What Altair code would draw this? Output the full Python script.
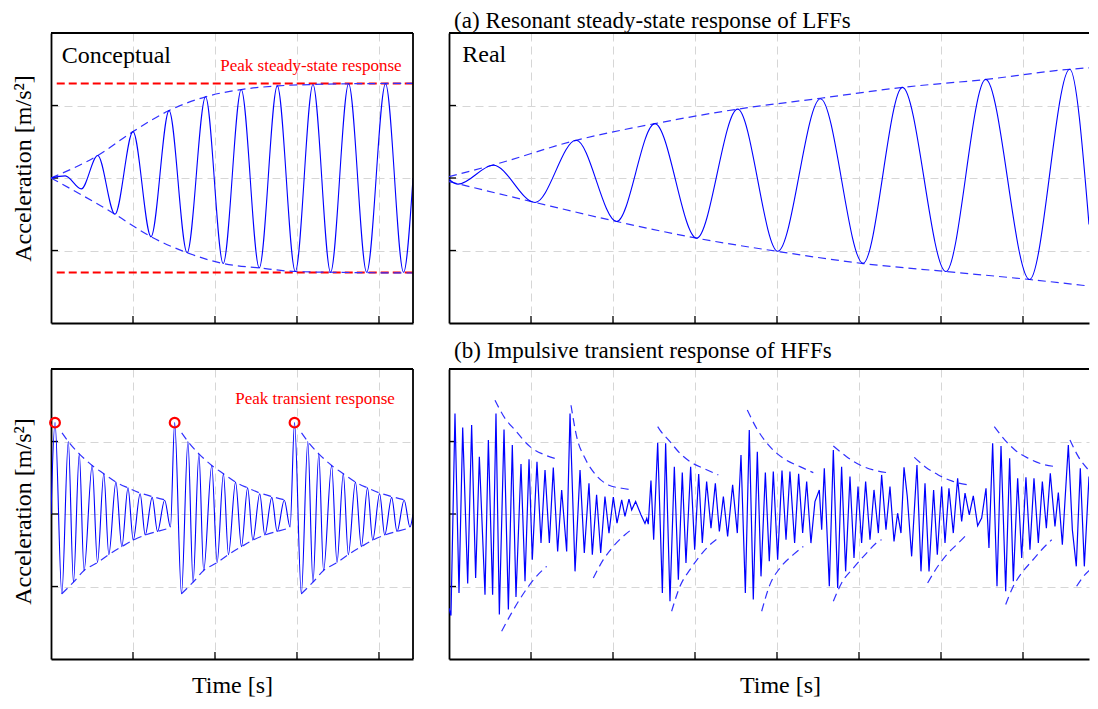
import altair as alt
import pandas as pd

FONT = "Liberation Serif"
BLUE = "#0000ff"
ENV_BLUE = "#3030ff"
RED = "#ff0000"
FRAME_W = 1.8

# ---------------- layout / axes ----------------
W_L, W_R, H = 362, 640, 290
X_MAX_L = 4.415
X_MAX_R = 7.805
Y_DOM = [-2, 2]
X_TICKS_L = [1, 2, 3, 4]
X_TICKS_R = [1, 2, 3, 4, 5, 6, 7]
Y_TICKS = [-1, 0, 1]

# ---------------- (a) conceptual LFF: extrema of waveform ----------------
A_CON_T = [0, 0.174, 0.37, 0.57, 0.78, 1.0, 1.22, 1.44, 1.66, 1.885, 2.10,
           2.32, 2.54, 2.76, 2.98, 3.195, 3.41, 3.63, 3.85, 4.08, 4.30, 4.415]
A_CON_V = [0, 0.03, -0.15, 0.31, -0.50, 0.64, -0.81, 0.93, -1.03, 1.12, -1.18,
           1.22, -1.24, 1.27, -1.29, 1.29, -1.30, 1.30, -1.30, 1.30, -1.30, 0.0]
A_CON_UP_T = [0, 0.57, 1.0, 1.44, 1.885, 2.32, 2.76, 3.2, 3.63, 4.415]
A_CON_UP_V = [0, 0.31, 0.64, 0.93, 1.12, 1.22, 1.27, 1.29, 1.30, 1.305]
A_CON_LO_T = [0, 0.78, 1.22, 1.66, 2.10, 2.54, 2.98, 3.41, 4.415]
A_CON_LO_V = [0, -0.50, -0.81, -1.03, -1.18, -1.24, -1.29, -1.30, -1.31]
PEAK_SS_T = [0.07, 4.415]
PEAK_SS_V = [1.305, -1.305]

# ---------------- (a) real LFF ----------------
A_REAL_T = [0, 0.11, 0.54, 1.05, 1.55, 2.045, 2.51, 3.02, 3.52, 4.01, 4.53,
            5.05, 5.53, 6.06, 6.545, 7.08, 7.57, 7.805]
A_REAL_V = [-0.02, -0.085, 0.176, -0.337, 0.52, -0.60, 0.75, -0.83, 0.95, -1.01,
            1.094, -1.176, 1.25, -1.29, 1.36, -1.40, 1.50, -0.64]
A_REAL_UP_T = [0, 0.54, 1.55, 2.51, 3.52, 4.53, 5.53, 6.55, 7.57, 7.805]
A_REAL_UP_V = [0.02, 0.18, 0.52, 0.75, 0.95, 1.10, 1.25, 1.36, 1.50, 1.52]
A_REAL_LO_T = [0, 1.05, 2.045, 3.02, 4.02, 5.05, 6.06, 7.08, 7.805]
A_REAL_LO_V = [-0.05, -0.337, -0.60, -0.83, -1.015, -1.18, -1.29, -1.40, -1.49]

# ---------------- (b) conceptual HFF: one impulse cycle (time after impulse) ----------------
B_CON_IMPULSE_T = [0.049, 1.508, 2.97]
B_CON_REL_T = [0, 0.083, 0.162, 0.225, 0.296, 0.354, 0.453, 0.518, 0.595, 0.656,
               0.743, 0.815, 0.89, 0.954, 1.038, 1.10, 1.185, 1.25, 1.337, 1.408]
B_CON_REL_V = [1.26, -1.10, 1.0, -0.94, 0.83, -0.78, 0.67, -0.67, 0.555, -0.56,
               0.44, -0.45, 0.36, -0.36, 0.28, -0.29, 0.23, -0.24, 0.19, -0.18]
B_CON_START = (0.0, 0.0)
B_CON_END = (4.415, 0.0)
B_CON_UP_T = [0.085, 0.162, 0.296, 0.453, 0.595, 0.743, 0.89, 1.038, 1.185, 1.36]
B_CON_UP_V = [1.12, 1.0, 0.83, 0.67, 0.555, 0.44, 0.36, 0.29, 0.24, 0.19]
B_CON_LO_T = [0.083, 0.225, 0.354, 0.518, 0.656, 0.815, 0.954, 1.10, 1.25, 1.38]
B_CON_LO_V = [-1.10, -0.94, -0.78, -0.67, -0.56, -0.45, -0.36, -0.29, -0.24, -0.20]

# ---------------- (b) real HFF ----------------
B_REAL_T = [
    0.0, 0.024, 0.073, 0.122, 0.167, 0.228, 0.276, 0.325, 0.37, 0.439,
    0.48, 0.532, 0.573, 0.614, 0.671, 0.724, 0.772, 0.817, 0.878, 0.927,
    0.976, 1.016, 1.073, 1.122, 1.171, 1.224, 1.272, 1.325, 1.374, 1.435,
    1.476, 1.537, 1.598, 1.65, 1.707, 1.748, 1.8, 1.85, 1.902, 1.951,
    2.004, 2.049, 2.106, 2.146, 2.195, 2.228, 2.276, 2.341, 2.39, 2.412,
    2.43, 2.463, 2.496, 2.545, 2.602, 2.642, 2.695, 2.748, 2.797, 2.845,
    2.89, 2.947, 2.996, 3.045, 3.089, 3.142, 3.195, 3.248, 3.297, 3.346,
    3.398, 3.459, 3.516, 3.561, 3.614, 3.662, 3.711, 3.76, 3.805, 3.858,
    3.906, 3.955, 4.008, 4.061, 4.11, 4.158, 4.215, 4.264, 4.313, 4.362,
    4.414, 4.463, 4.516, 4.545, 4.577, 4.638, 4.687, 4.74, 4.788, 4.837,
    4.89, 4.939, 4.988, 5.032, 5.081, 5.134, 5.183, 5.236, 5.276, 5.329,
    5.378, 5.427, 5.471, 5.512, 5.549, 5.589, 5.642, 5.707, 5.756, 5.805,
    5.854, 5.91, 5.955, 6.008, 6.049, 6.097, 6.15, 6.203, 6.252, 6.293,
    6.345, 6.394, 6.447, 6.496, 6.549, 6.585, 6.63, 6.683, 6.732, 6.789,
    6.837, 6.882, 6.935, 6.984, 7.036, 7.085, 7.134, 7.187, 7.236, 7.285,
    7.333, 7.39, 7.431, 7.48, 7.553, 7.602, 7.65, 7.699, 7.748, 7.805]
B_REAL_V = [
    -1.30, -1.40, 1.387, -1.089, 1.194, -0.96, 1.226, -0.882, 0.791, -1.112,
    1.02, -1.112, 1.387, -1.387, 1.167, -1.318, 0.951, -1.144, 0.69, -0.928,
    0.754, -0.63, 0.722, -0.401, 0.608, -0.401, 0.64, -0.516, 0.332, -0.516,
    1.387, -0.791, 0.608, -0.539, 0.424, -0.561, 0.264, -0.539, 0.241, -0.263,
    0.232, -0.126, 0.195, -0.034, 0.204, 0.057, 0.172, -0.011, -0.13, -0.06,
    -0.14, 0.461, -0.355, 0.984, -1.089, 0.974, -1.203, 0.653, -0.905, 0.571,
    -0.676, 0.653, -0.493, 0.553, -0.401, 0.447, -0.195, 0.424, -0.24, 0.241,
    -0.309, 0.401, -0.263, 0.814, -1.089, 1.158, -1.18, 0.86, -0.86, 0.571,
    -0.653, 0.585, -0.63, 0.6, -0.355, 0.585, -0.401, 0.553, -0.263, 0.447,
    -0.401, 0.172, 0.332, -0.218, 0.631, -0.997, 0.883, -1.02, 0.653, -0.791,
    0.516, -0.607, 0.378, -0.401, 0.447, -0.355, 0.332, -0.263, 0.539, -0.218,
    0.378, -0.378, 0.011, -0.263, 0.644, 0.241, -0.584, 0.676, -0.791, 0.424,
    -0.791, 0.332, -0.561, 0.378, -0.401, 0.355, -0.263, 0.493, -0.103, 0.287,
    -0.011, 0.25, -0.163, -0.057, 0.355, -0.47, 0.974, -0.997, 0.938, -1.066,
    0.768, -0.928, 0.493, -0.607, 0.507, -0.493, 0.493, -0.401, 0.447, -0.195,
    0.562, -0.172, 0.296, -0.424, 0.951, -0.218, -0.722, 0.631, -0.722, 0.516]
B_REAL_ENV_T = [
    [0.561, 0.683, 0.805, 0.988, 1.171, 1.333],
    [0.642, 0.764, 0.927, 1.049, 1.191],
    [1.488, 1.557, 1.659, 1.78, 1.943, 2.106, 2.228],
    [1.76, 1.882, 2.004, 2.146, 2.248],
    [2.545, 2.573, 2.695, 2.817, 2.959, 3.102, 3.284],
    [2.715, 2.817, 2.939, 3.04, 3.162, 3.284],
    [3.638, 3.752, 3.914, 4.077, 4.28, 4.443],
    [3.813, 3.914, 4.036, 4.199, 4.321],
    [4.687, 4.849, 5.012, 5.175, 5.337],
    [4.687, 4.788, 4.931, 5.093, 5.236, 5.276],
    [5.675, 5.805, 5.967, 6.13, 6.333],
    [5.837, 5.947, 6.069, 6.211, 6.333],
    [6.65, 6.78, 6.902, 7.065, 7.228, 7.41],
    [6.789, 6.882, 6.984, 7.106, 7.228, 7.35],
    [7.573, 7.675, 7.805],
    [7.654, 7.756, 7.805],
]
B_REAL_ENV_V = [
    [1.57, 1.318, 1.158, 0.929, 0.814, 0.754],
    [-1.616, -1.364, -1.066, -0.882, -0.722],
    [1.50, 1.066, 0.768, 0.553, 0.401, 0.355, 0.332],
    [-0.882, -0.63, -0.447, -0.286, -0.195],
    [1.204, 1.158, 0.998, 0.837, 0.708, 0.631, 0.539],
    [-1.341, -0.997, -0.768, -0.607, -0.447, -0.332],
    [1.433, 1.18, 0.929, 0.768, 0.653, 0.571],
    [-1.341, -0.974, -0.745, -0.561, -0.447],
    [0.938, 0.791, 0.676, 0.608, 0.571],
    [-1.203, -0.951, -0.745, -0.539, -0.378, -0.355],
    [0.782, 0.653, 0.539, 0.456, 0.401],
    [-0.951, -0.745, -0.561, -0.401, -0.263],
    [1.204, 1.02, 0.883, 0.768, 0.69, 0.653],
    [-1.249, -0.997, -0.814, -0.653, -0.493, -0.355],
    [1.02, 0.791, 0.60],
    [-0.997, -0.836, -0.78],
]

# ---------------- text ----------------
TITLE_A = "(a) Resonant steady-state response of LFFs"
TITLE_B = "(b) Impulsive transient response of HFFs"
Y_TITLE = "Acceleration [m/s²]"
X_TITLE = "Time [s]"
LBL_CON = ("Conceptual", 0.13, 1.685)
LBL_REAL = ("Real", 0.162, 1.70)
LBL_PEAK_SS = ("Peak steady-state response", 3.17, 1.55)
LBL_PEAK_TR = ("Peak transient response", 3.22, 1.58)


# ---------------- helpers ----------------
def segs_df(t_lists, v_lists):
    rows = []
    for i, (ts, vs) in enumerate(zip(t_lists, v_lists)):
        for t, v in zip(ts, vs):
            rows.append({"seg": i, "t": t, "v": v})
    return pd.DataFrame(rows)


def panel(width, xmax, xticks, x_title, y_title, content, right_border,
          title=None, title_x=None, title_y=None, title_dy=0):
    xs = alt.Scale(domain=[0, xmax], nice=False, zero=False)
    ys = alt.Scale(domain=Y_DOM, nice=False, zero=False)
    xkw = {"values": xticks, "title": x_title}
    if title_x is not None:
        xkw["titleX"] = title_x
    ykw = {"values": Y_TICKS, "title": y_title, "titlePadding": 16}
    if title_y is not None:
        ykw["titleY"] = title_y
    X = alt.X("t:Q", scale=xs, axis=alt.Axis(**xkw))
    Y = alt.Y("v:Q", scale=ys, axis=alt.Axis(**ykw))

    tx = alt.Chart(pd.DataFrame({"t": xticks})).mark_rule(
        color="black", strokeWidth=1.3).encode(x=X, y=alt.value(H), y2=alt.value(H - 7))
    ty = alt.Chart(pd.DataFrame({"v": Y_TICKS})).mark_rule(
        color="black", strokeWidth=1.3).encode(y=Y, x=alt.value(0), x2=alt.value(7))
    one = pd.DataFrame({"k": [0]})
    top = alt.Chart(one).mark_rule(color="black", strokeWidth=FRAME_W).encode(
        x=alt.value(0), x2=alt.value(width), y=alt.value(0))
    layers = [tx, ty] + [fn(X, Y) for fn in content] + [top]
    if right_border:
        layers.append(alt.Chart(one).mark_rule(color="black", strokeWidth=FRAME_W).encode(
            x=alt.value(width), y=alt.value(0), y2=alt.value(H)))
    ch = alt.layer(*layers).properties(width=width, height=H)
    if title is not None:
        ch = ch.properties(title=alt.TitleParams(text=title, anchor="start", dx=6, dy=title_dy))
    return ch


def wave(df, interp, width=1.1):
    return lambda X, Y: alt.Chart(df).mark_line(
        color=BLUE, strokeWidth=width, interpolate=interp, clip=True).encode(x=X, y=Y)


def env(df, color=ENV_BLUE, dash=(8, 5), width=1.2):
    return lambda X, Y: alt.Chart(df).mark_line(
        color=color, strokeWidth=width, strokeDash=list(dash), interpolate="monotone",
        clip=True).encode(x=X, y=Y, detail="seg:N")


def label(lbl, size, color, align):
    df = pd.DataFrame({"label": [lbl[0]], "t": [lbl[1]], "v": [lbl[2]]})
    return lambda X, Y: alt.Chart(df).mark_text(
        font=FONT, fontSize=size, color=color, align=align, baseline="middle").encode(
        x=X, y=Y, text="label:N")


# ---------------- data frames ----------------
a_con = pd.DataFrame({"t": A_CON_T, "v": A_CON_V})
a_con_env = segs_df([A_CON_UP_T, A_CON_LO_T], [A_CON_UP_V, A_CON_LO_V])
peak_ss = segs_df([PEAK_SS_T, PEAK_SS_T], [[PEAK_SS_V[0]] * 2, [PEAK_SS_V[1]] * 2])

a_real = pd.DataFrame({"t": A_REAL_T, "v": A_REAL_V})
a_real_env = segs_df([A_REAL_UP_T, A_REAL_LO_T], [A_REAL_UP_V, A_REAL_LO_V])

bt, bv = [B_CON_START[0]], [B_CON_START[1]]
up_t, up_v, lo_t, lo_v = [], [], [], []
for t0 in B_CON_IMPULSE_T:
    bt += [t0 + r for r in B_CON_REL_T]
    bv += B_CON_REL_V
    up_t.append([t0 + r for r in B_CON_UP_T])
    up_v.append(B_CON_UP_V)
    lo_t.append([t0 + r for r in B_CON_LO_T])
    lo_v.append(B_CON_LO_V)
bt.append(B_CON_END[0])
bv.append(B_CON_END[1])
b_con = pd.DataFrame({"t": bt, "v": bv})
b_con_env = segs_df(up_t + lo_t, up_v + lo_v)
b_peaks = pd.DataFrame({"t": B_CON_IMPULSE_T, "v": [B_CON_REL_V[0]] * 3})

b_real = pd.DataFrame({"t": B_REAL_T, "v": B_REAL_V})
b_real_env = segs_df(B_REAL_ENV_T, B_REAL_ENV_V)


def circles(X, Y):
    return alt.Chart(b_peaks).mark_point(
        shape="circle", filled=False, color=RED, size=95, strokeWidth=2.2,
        opacity=1).encode(x=X, y=Y)


# ---------------- panels ----------------
tl = panel(W_L, X_MAX_L, X_TICKS_L, None, Y_TITLE,
           [env(peak_ss, RED, (8, 4), 2.0), env(a_con_env), wave(a_con, "monotone"),
            label(LBL_CON, 24, "black", "left"), label(LBL_PEAK_SS, 17, RED, "center")],
           True, title_y=135)
tr = panel(W_R, X_MAX_R, X_TICKS_R, None, None,
           [env(a_real_env), wave(a_real, "monotone"), label(LBL_REAL, 24, "black", "left")],
           False, title=TITLE_A)
bl = panel(W_L, X_MAX_L, X_TICKS_L, X_TITLE, Y_TITLE,
           [env(b_con_env), wave(b_con, "monotone"), circles,
            label(LBL_PEAK_TR, 17, RED, "center")],
           True, title_y=142)
br = panel(W_R, X_MAX_R, X_TICKS_R, X_TITLE, None,
           [env(b_real_env), wave(b_real, "linear", 1.2)],
           False, title=TITLE_B, title_x=331, title_dy=-6)

chart = alt.concat(tl, tr, bl, br, columns=2, spacing={"row": 46, "column": 36},
                   bounds="flush").properties(
    padding={"left": 3, "top": 2, "right": 0, "bottom": 0}, background="white"
).configure_view(stroke=None).configure_axis(
    grid=True, gridColor="#d6d6d6", gridDash=[8, 5], gridWidth=1,
    ticks=False, labels=False, domain=True, domainColor="black", domainWidth=FRAME_W,
    titleFont=FONT, titleFontSize=24, titleFontWeight="normal", titleColor="black",
    titlePadding=14
).configure_title(
    font=FONT, fontSize=23, fontWeight="normal", color="black", anchor="start", offset=-1
)

chart.save("out.html", embed_options={"renderer": "svg", "actions": False})
